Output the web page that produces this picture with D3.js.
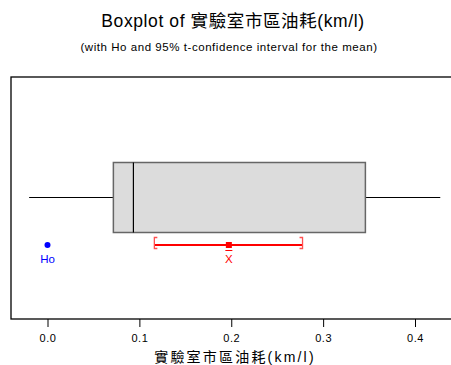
<!DOCTYPE html>
<html><head><meta charset="utf-8">
<script src="https://cdn.jsdelivr.net/npm/d3@7"></script>
<style>body{margin:0;background:#fff}svg{display:block}</style>
</head><body>
<script>
const varName = "實驗室市區油耗(km/l)";
const boxStats = [-0.020, 0.0717, 0.0935, 0.346, 0.4275]; // min, q1, median, q3, max
const hoValue = [0.0];
const ciValues = [0.1163, 0.1974, 0.2776]; // lower, mean, upper
const tickValues = [0.0, 0.1, 0.2, 0.3, 0.4];

const W = 451, H = 365;
const svg = d3.select("body").append("svg").attr("width", W).attr("height", H);
const font = "'Liberation Sans', Arial, 'Noto Sans CJK TC', sans-serif";

const x = d3.scaleLinear().domain([0, 0.4]).range([47.5, 415]);
const frame = {left: 11, top: 77, right: 452, bottom: 319};

svg.append("text").attr("x", 233).attr("y", 27).attr("text-anchor", "middle")
  .attr("font-family", font).attr("font-size", 17.5).attr("letter-spacing", 0.6).attr("fill", "#000")
  .text("Boxplot of " + varName);
svg.append("text").attr("x", 229).attr("y", 51).attr("text-anchor", "middle")
  .attr("font-family", font).attr("font-size", 11.5).attr("letter-spacing", 0.55).attr("fill", "#000")
  .text("(with Ho and 95% t-confidence interval for the mean)");

svg.append("rect").attr("x", frame.left).attr("y", frame.top)
  .attr("width", frame.right - frame.left).attr("height", frame.bottom - frame.top)
  .attr("fill", "none").attr("stroke", "#000").attr("stroke-width", 1.3);

const axis = d3.axisBottom(x).tickValues(tickValues).tickFormat(d3.format(".1f")).tickSize(8).tickSizeOuter(0);
const ag = svg.append("g").attr("transform", `translate(0,${frame.bottom})`).call(axis);
ag.select(".domain").remove();
ag.selectAll("line").attr("stroke", "#000");
ag.selectAll("text").attr("font-family", font).attr("font-size", 11).attr("letter-spacing", 0.5).attr("fill", "#000").attr("dy", "1.05em");

svg.append("text").attr("x", 235).attr("y", 362).attr("text-anchor", "middle")
  .attr("font-family", font).attr("font-size", 14).attr("letter-spacing", 2.2).attr("fill", "#000")
  .text(varName);

// boxplot
const yMid = 197.5, boxTop = 162.5, boxBot = 232.5;
const [mn, q1, md, q3, mx] = boxStats;
svg.append("line").attr("x1", x(mn)).attr("x2", x(q1)).attr("y1", yMid).attr("y2", yMid).attr("stroke", "#000");
svg.append("line").attr("x1", x(q3)).attr("x2", x(mx)).attr("y1", yMid).attr("y2", yMid).attr("stroke", "#000");
svg.append("rect").attr("x", x(q1)).attr("y", boxTop).attr("width", x(q3) - x(q1)).attr("height", boxBot - boxTop)
  .attr("fill", "#dcdcdc").attr("stroke", "#666").attr("stroke-width", 1.5);
svg.append("line").attr("x1", x(md)).attr("x2", x(md)).attr("y1", boxTop).attr("y2", boxBot).attr("stroke", "#000").attr("stroke-width", 1.2);

// Ho
const yCI = 245;
svg.selectAll(".ho").data(hoValue).enter().append("circle").attr("cx", d => x(d)).attr("cy", yCI).attr("r", 3).attr("fill", "#0000ff");
svg.append("text").attr("x", x(hoValue[0])).attr("y", 263).attr("text-anchor", "middle")
  .attr("font-family", font).attr("font-size", 11.5).attr("fill", "#0000ff").text("Ho");

// CI
const red = "#ff0000";
const [lo, mean, hi] = ciValues;
svg.append("line").attr("x1", x(lo)).attr("x2", x(hi)).attr("y1", yCI).attr("y2", yCI).attr("stroke", red).attr("stroke-width", 2);
svg.append("path").attr("d", `M${x(lo)+3},237.5 H${x(lo)} V248.5 H${x(lo)+3}`).attr("fill", "none").attr("stroke", "#ff5050").attr("stroke-width", 1.3);
svg.append("path").attr("d", `M${x(hi)-3},237.5 H${x(hi)} V248.5 H${x(hi)-3}`).attr("fill", "none").attr("stroke", "#ff5050").attr("stroke-width", 1.3);
svg.append("rect").attr("x", x(mean) - 3).attr("y", yCI - 3).attr("width", 6).attr("height", 6).attr("fill", red);
svg.append("text").attr("x", x(mean)).attr("y", 263).attr("text-anchor", "middle")
  .attr("font-family", font).attr("font-size", 11.5).attr("fill", red).text("X");
svg.append("line").attr("x1", x(mean) - 3.5).attr("x2", x(mean) + 3.5).attr("y1", 250.5).attr("y2", 250.5).attr("stroke", red).attr("stroke-width", 1);
</script>
</body></html>
